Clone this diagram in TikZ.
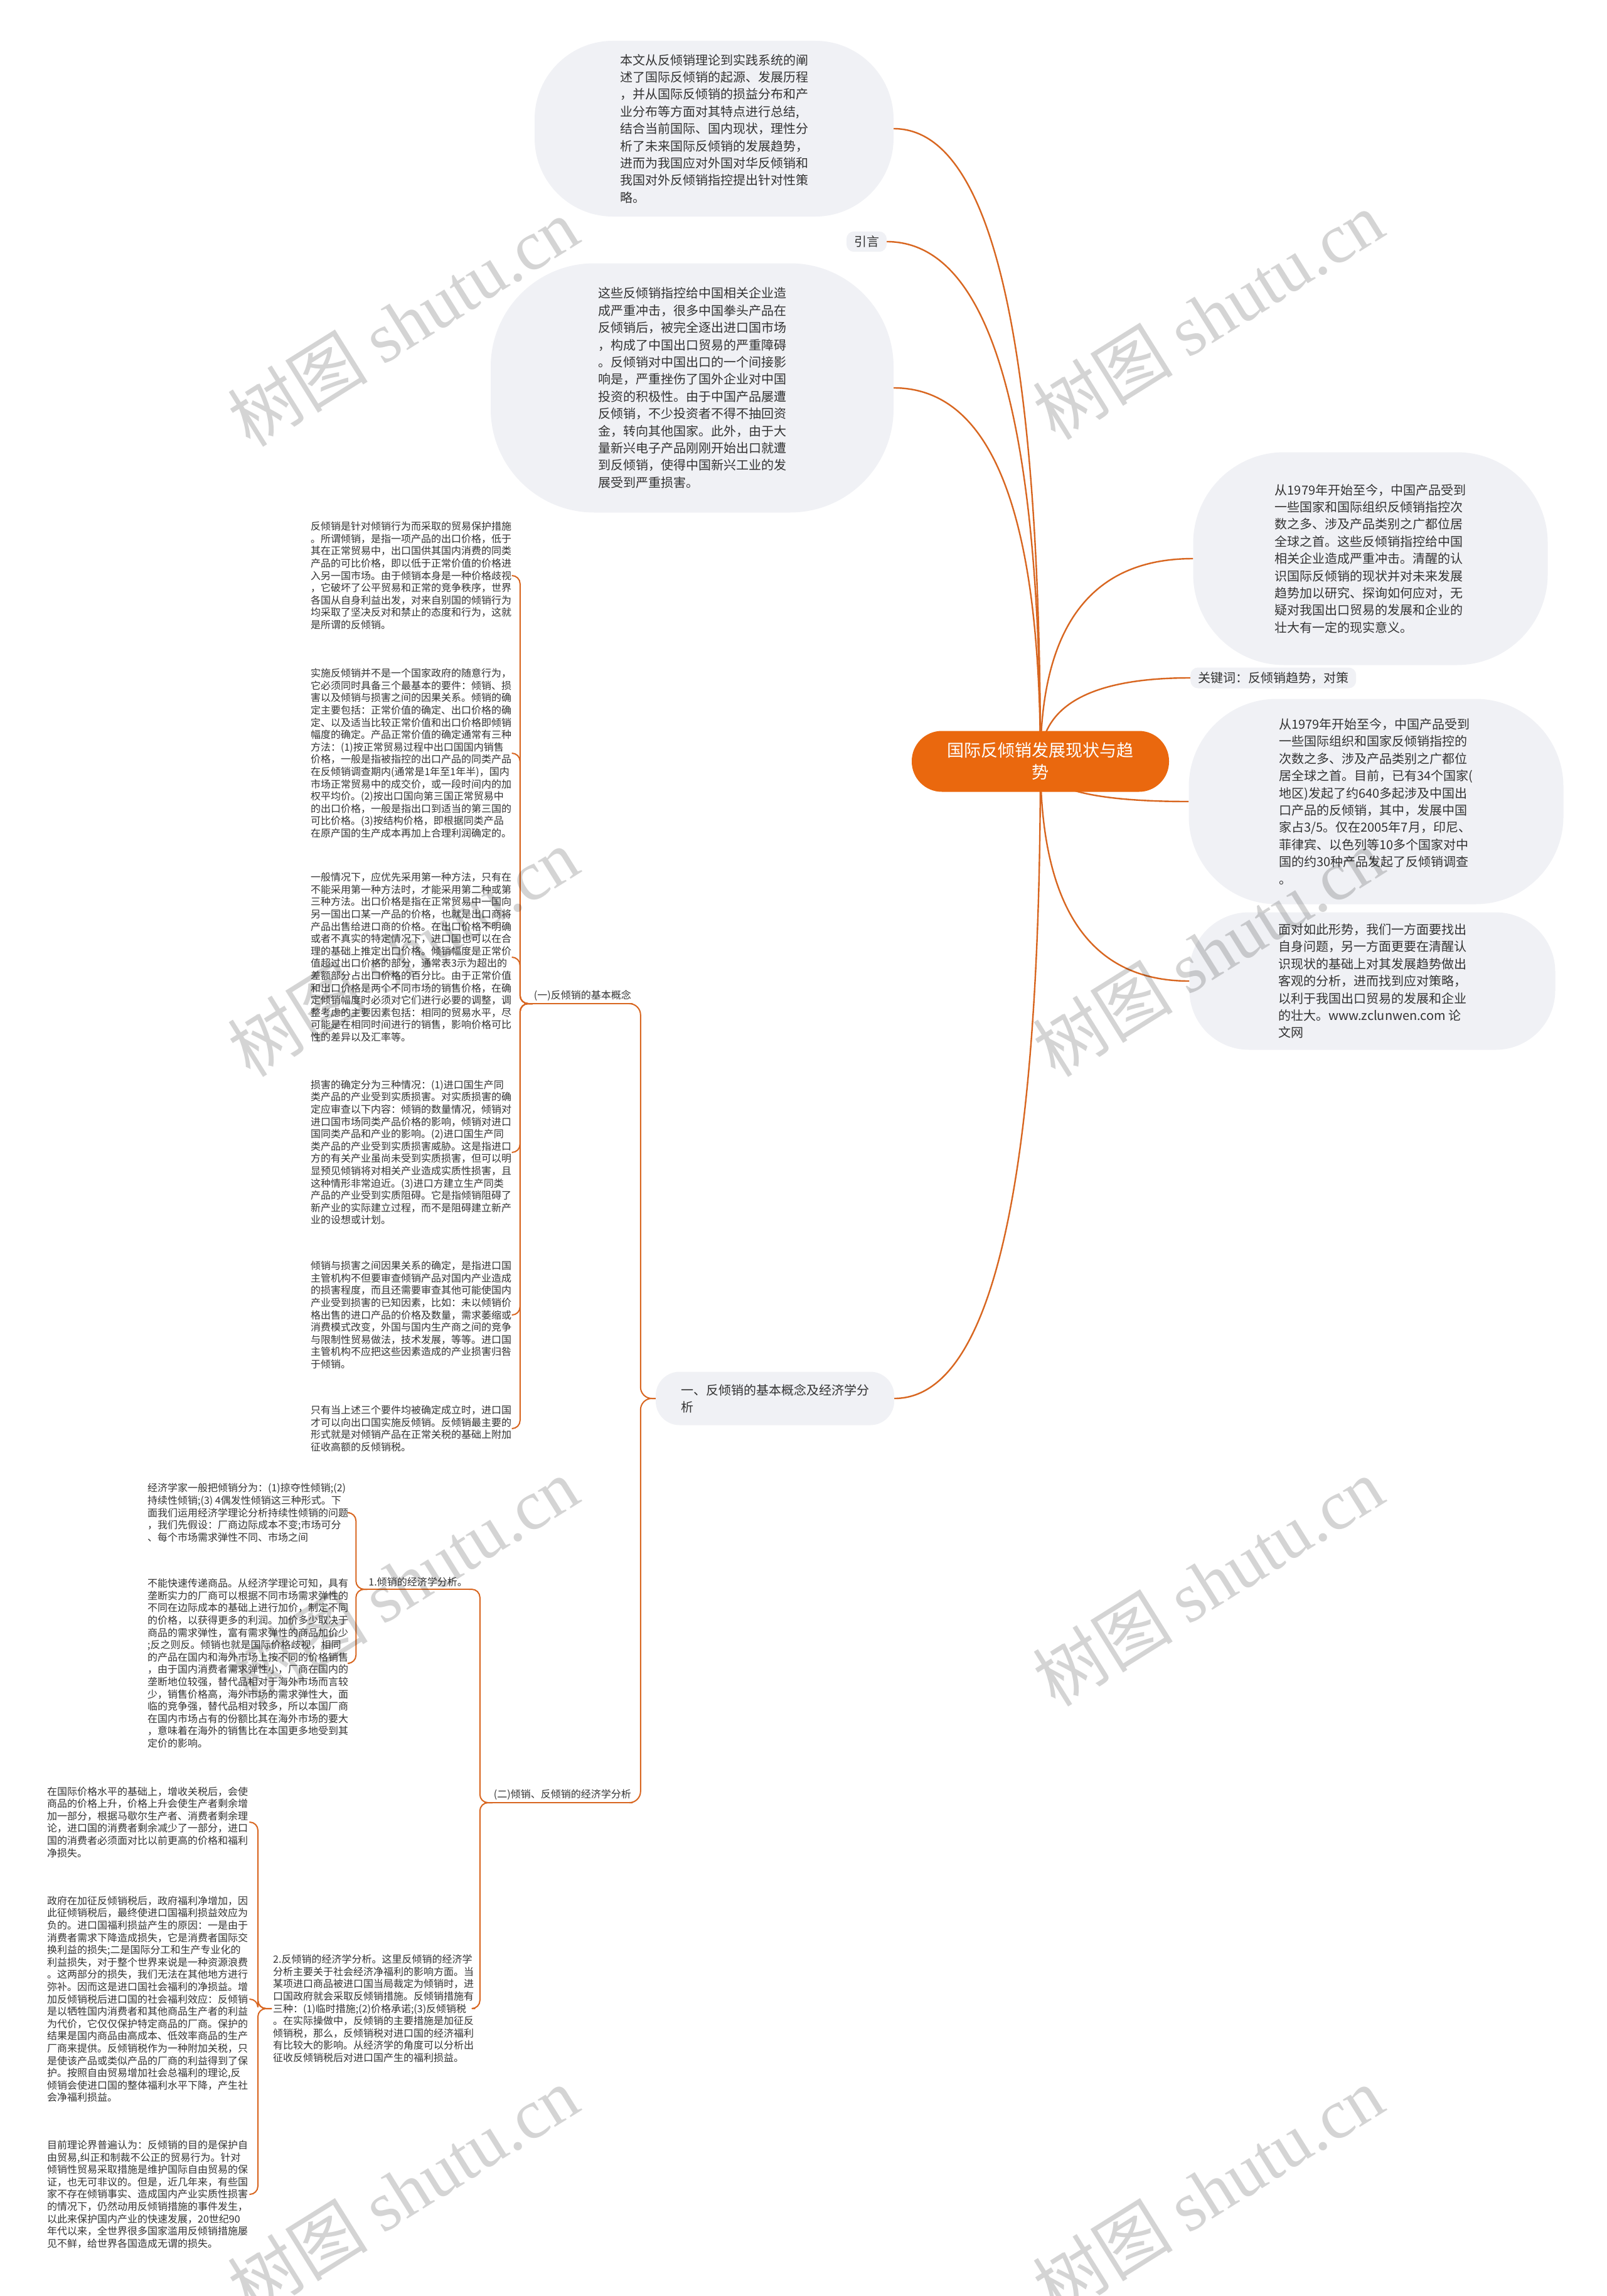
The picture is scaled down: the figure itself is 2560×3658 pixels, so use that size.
\documentclass[tikz,border=0pt]{standalone}
\usepackage{fontspec}
\setmainfont{Noto Sans CJK SC}
\newfontfamily\cjk{Noto Sans CJK SC}
\newfontfamily\wmserif{Liberation Serif}
\usetikzlibrary{calc}
\pgfdeclarelayer{bg}
\pgfdeclarelayer{fg}
\pgfsetlayers{bg,main,fg}
\definecolor{linec}{RGB}{216,102,32}
\definecolor{rootc}{RGB}{234,104,14}
\definecolor{bubc}{RGB}{240,241,245}
\definecolor{txtc}{RGB}{51,51,51}
\tikzset{
  conn/.style={draw=linec, line width=2.4pt},
  conn2/.style={draw=linec, line width=2pt, rounded corners=13pt},
  qcurve/.style={to path={.. controls ($(\tikztostart)!0.6667!(\tikztostart |- \tikztotarget)$) and ($(\tikztotarget)!0.6667!(\tikztostart |- \tikztotarget)$) .. (\tikztotarget)}},
  rootnode/.style={fill=rootc, text=white, rounded corners=48pt, minimum width=410pt, minimum height=97pt, align=center, font=\cjk\fontsize{27}{35}\selectfont, inner sep=0pt},
  bubble/.style={fill=bubc, text=txtc, align=left, font=\cjk\fontsize{20}{27.4}\selectfont, inner sep=0pt},
  smallbox/.style={fill=bubc, text=txtc, rounded corners=12pt, font=\cjk\fontsize{20}{26}\selectfont, inner xsep=12pt, inner ysep=7pt},
  lbl/.style={text=txtc, font=\cjk\fontsize{16}{19.6}\selectfont, inner xsep=2pt, inner ysep=4pt},
  para/.style={text=txtc, align=left, font=\cjk\fontsize{16}{19.6}\selectfont, inner xsep=2pt, inner ysep=0pt},
  wm/.style={text=black, opacity=0.17, rotate=32, font=\cjk\fontsize{112}{112}\selectfont}
}
\begin{document}
\begin{tikzpicture}[x=1pt,y=-1pt]
\useasboundingbox (0,0) rectangle (2560,3658);

% ---------- root and first level ----------
\node[rootnode] (c) at (1658,1213) {国际反倾销发展现状与趋\\势};

\node[bubble, minimum width=572pt, minimum height=280pt, rounded corners=125pt] (b1) at (1138,205) {本文从反倾销理论到实践系统的阐\\述了国际反倾销的起源、发展历程\\，并从国际反倾销的损益分布和产\\业分布等方面对其特点进行总结,\\结合当前国际、国内现状，理性分\\析了未来国际反倾销的发展趋势，\\进而为我国应对外国对华反倾销和\\我国对外反倾销指控提出针对性策\\略。};

\node[smallbox] (yin) at (1381,385) {引言};

\node[bubble, minimum width=642pt, minimum height=397pt, rounded corners=165pt] (b2) at (1103,618) {这些反倾销指控给中国相关企业造\\成严重冲击，很多中国拳头产品在\\反倾销后，被完全逐出进口国市场\\，构成了中国出口贸易的严重障碍\\。反倾销对中国出口的一个间接影\\响是，严重挫伤了国外企业对中国\\投资的积极性。由于中国产品屡遭\\反倾销，不少投资者不得不抽回资\\金，转向其他国家。此外，由于大\\量新兴电子产品刚刚开始出口就遭\\到反倾销，使得中国新兴工业的发\\展受到严重损害。};

\node[bubble, minimum width=565pt, minimum height=339pt, rounded corners=145pt] (r1) at (2184,890) {从1979年开始至今，中国产品受到\\一些国家和国际组织反倾销指控次\\数之多、涉及产品类别之广都位居\\全球之首。这些反倾销指控给中国\\相关企业造成严重冲击。清醒的认\\识国际反倾销的现状并对未来发展\\趋势加以研究、探询如何应对，无\\疑对我国出口贸易的发展和企业的\\壮大有一定的现实意义。};

\node[smallbox, anchor=west] (kw) at (1897,1080) {关键词：反倾销趋势，对策};

\node[bubble, minimum width=597pt, minimum height=327pt, rounded corners=140pt] (r2) at (2193,1277) {从1979年开始至今，中国产品受到\\一些国际组织和国家反倾销指控的\\次数之多、涉及产品类别之广都位\\居全球之首。目前，已有34个国家(\\地区)发起了约640多起涉及中国出\\口产品的反倾销，其中，发展中国\\家占3/5。仅在2005年7月，印尼、\\菲律宾、以色列等10多个国家对中\\国的约30种产品发起了反倾销调查\\。};

\node[bubble, minimum width=583pt, minimum height=219pt, rounded corners=95pt] (r3) at (2187,1563) {面对如此形势，我们一方面要找出\\自身问题，另一方面更要在清醒认\\识现状的基础上对其发展趋势做出\\客观的分析，进而找到应对策略，\\以利于我国出口贸易的发展和企业\\的壮大。www.zclunwen.com 论\\文网};

\node[bubble, minimum width=380pt, minimum height=85pt, rounded corners=38pt] (n1) at (1235,2228) {一、反倾销的基本概念及经济学分\\析};

% ---------- labels ----------
\node[lbl, anchor=south east] (l1) at (1008,1599) {(一)反倾销的基本概念};
\node[lbl, anchor=south east] (l2) at (1008,2872) {(二)倾销、反倾销的经济学分析};
\node[lbl, anchor=south east] (l3) at (747,2532) {1.倾销的经济学分析。};

% ---------- paragraphs of (一) ----------
\node[para, anchor=west] (p1) at (493,917) {反倾销是针对倾销行为而采取的贸易保护措施\\。所谓倾销，是指一项产品的出口价格，低于\\其在正常贸易中，出口国供其国内消费的同类\\产品的可比价格，即以低于正常价值的价格进\\入另一国市场。由于倾销本身是一种价格歧视\\，它破坏了公平贸易和正常的竞争秩序，世界\\各国从自身利益出发，对来自别国的倾销行为\\均采取了坚决反对和禁止的态度和行为，这就\\是所谓的反倾销。};

\node[para, anchor=west] (p2) at (493,1200) {实施反倾销并不是一个国家政府的随意行为，\\它必须同时具备三个最基本的要件：倾销、损\\害以及倾销与损害之间的因果关系。倾销的确\\定主要包括：正常价值的确定、出口价格的确\\定、以及适当比较正常价值和出口价格即倾销\\幅度的确定。产品正常价值的确定通常有三种\\方法：(1)按正常贸易过程中出口国国内销售\\价格，一般是指被指控的出口产品的同类产品\\在反倾销调查期内(通常是1年至1年半)，国内\\市场正常贸易中的成交价，或一段时间内的加\\权平均价。(2)按出口国向第三国正常贸易中\\的出口价格，一般是指出口到适当的第三国的\\可比价格。(3)按结构价格，即根据同类产品\\在原产国的生产成本再加上合理利润确定的。};

\node[para, anchor=west] (p3) at (493,1525) {一般情况下，应优先采用第一种方法，只有在\\不能采用第一种方法时，才能采用第二种或第\\三种方法。出口价格是指在正常贸易中一国向\\另一国出口某一产品的价格，也就是出口商将\\产品出售给进口商的价格。在出口价格不明确\\或者不真实的特定情况下，进口国也可以在合\\理的基础上推定出口价格。倾销幅度是正常价\\值超过出口价格的部分，通常表3示为超出的\\差额部分占出口价格的百分比。由于正常价值\\和出口价格是两个不同市场的销售价格，在确\\定倾销幅度时必须对它们进行必要的调整，调\\整考虑的主要因素包括：相同的贸易水平，尽\\可能是在相同时间进行的销售，影响价格可比\\性的差异以及汇率等。};

\node[para, anchor=west] (p4) at (493,1836) {损害的确定分为三种情况：(1)进口国生产同\\类产品的产业受到实质损害。对实质损害的确\\定应审查以下内容：倾销的数量情况，倾销对\\进口国市场同类产品价格的影响，倾销对进口\\国同类产品和产业的影响。(2)进口国生产同\\类产品的产业受到实质损害威胁。这是指进口\\方的有关产业虽尚未受到实质损害，但可以明\\显预见倾销将对相关产业造成实质性损害，且\\这种情形非常迫近。(3)进口方建立生产同类\\产品的产业受到实质阻碍。它是指倾销阻碍了\\新产业的实际建立过程，而不是阻碍建立新产\\业的设想或计划。};

\node[para, anchor=west] (p5) at (493,2095) {倾销与损害之间因果关系的确定，是指进口国\\主管机构不但要审查倾销产品对国内产业造成\\的损害程度，而且还需要审查其他可能使国内\\产业受到损害的已知因素，比如：未以倾销价\\格出售的进口产品的价格及数量，需求萎缩或\\消费模式改变，外国与国内生产商之间的竞争\\与限制性贸易做法，技术发展，等等。进口国\\主管机构不应把这些因素造成的产业损害归咎\\于倾销。};

\node[para, anchor=west] (p6) at (493,2276) {只有当上述三个要件均被确定成立时，进口国\\才可以向出口国实施反倾销。反倾销最主要的\\形式就是对倾销产品在正常关税的基础上附加\\征收高额的反倾销税。};

% ---------- paragraphs of (二) ----------
\node[para, anchor=west] (e1) at (233,2410) {经济学家一般把倾销分为：(1)掠夺性倾销;(2)\\持续性倾销;(3) 4偶发性倾销这三种形式。下\\面我们运用经济学理论分析持续性倾销的问题\\，我们先假设：厂商边际成本不变;市场可分\\、每个市场需求弹性不同、市场之间};

\node[para, anchor=west] (e2) at (233,2650) {不能快速传递商品。从经济学理论可知，具有\\垄断实力的厂商可以根据不同市场需求弹性的\\不同在边际成本的基础上进行加价，制定不同\\的价格，以获得更多的利润。加价多少取决于\\商品的需求弹性，富有需求弹性的商品加价少\\;反之则反。倾销也就是国际价格歧视，相同\\的产品在国内和海外市场上按不同的价格销售\\，由于国内消费者需求弹性小，厂商在国内的\\垄断地位较强，替代品相对于海外市场而言较\\少，销售价格高，海外市场的需求弹性大，面\\临的竞争强，替代品相对较多，所以本国厂商\\在国内市场占有的份额比其在海外市场的要大\\，意味着在海外的销售比在本国更多地受到其\\定价的影响。};

\node[para, anchor=west] (k) at (433,3200) {2.反倾销的经济学分析。这里反倾销的经济学\\分析主要关于社会经济净福利的影响方面。当\\某项进口商品被进口国当局裁定为倾销时，进\\口国政府就会采取反倾销措施。反倾销措施有\\三种：(1)临时措施;(2)价格承诺;(3)反倾销税\\。在实际操做中，反倾销的主要措施是加征反\\倾销税，那么，反倾销税对进口国的经济福利\\有比较大的影响。从经济学的角度可以分析出\\征收反倾销税后对进口国产生的福利损益。};

\node[para, anchor=west] (h1) at (73,2903) {在国际价格水平的基础上，增收关税后，会使\\商品的价格上升，价格上升会使生产者剩余增\\加一部分，根据马歇尔生产者、消费者剩余理\\论，进口国的消费者剩余减少了一部分，进口\\国的消费者必须面对比以前更高的价格和福利\\净损失。};

\node[para, anchor=west] (h2) at (73,3185) {政府在加征反倾销税后，政府福利净增加，因\\此征倾销税后，最终使进口国福利损益效应为\\负的。进口国福利损益产生的原因：一是由于\\消费者需求下降造成损失，它是消费者国际交\\换利益的损失;二是国际分工和生产专业化的\\利益损失，对于整个世界来说是一种资源浪费\\。这两部分的损失，我们无法在其他地方进行\\弥补。因而这是进口国社会福利的净损益。增\\加反倾销税后进口国的社会福利效应：反倾销\\是以牺牲国内消费者和其他商品生产者的利益\\为代价，它仅仅保护特定商品的厂商。保护的\\结果是国内商品由高成本、低效率商品的生产\\厂商来提供。反倾销税作为一种附加关税，只\\是使该产品或类似产品的厂商的利益得到了保\\护。按照自由贸易增加社会总福利的理论,反\\倾销会使进口国的整体福利水平下降，产生社\\会净福利损益。};

\node[para, anchor=west] (h3) at (73,3496) {目前理论界普遍认为：反倾销的目的是保护自\\由贸易,纠正和制裁不公正的贸易行为。针对\\倾销性贸易采取措施是维护国际自由贸易的保\\证，也无可非议的。但是，近几年来，有些国\\家不存在倾销事实、造成国内产业实质性损害\\的情况下，仍然动用反倾销措施的事件发生，\\以此来保护国内产业的快速发展，20世纪90\\年代以来，全世界很多国家滥用反倾销措施屡\\见不鲜，给世界各国造成无谓的损失。};

% ---------- connectors ----------
\begin{pgfonlayer}{bg}
\fill[white] (0,0) rectangle (2560,3658);
\draw[conn] (c.center) to[qcurve] (b1.east);
\draw[conn] (c.center) to[qcurve] (yin.east);
\draw[conn] (c.center) to[qcurve] (b2.east);
\draw[conn] (c.center) to[qcurve] (r1.west);
\draw[conn] (c.center) to[qcurve] (kw.west);
\draw[conn] (c.center) to[qcurve] (r2.west);
\draw[conn] (c.center) to[qcurve] (r3.west);
\draw[conn] (c.center) to[qcurve] (n1.east);

\draw[conn2, rounded corners=18pt] (n1.west) -- ++(-24,0) |- (l1.south east);
\draw[conn2, rounded corners=18pt] (n1.west) -- ++(-24,0) |- (l2.south east);

\draw[conn2] (l1.south west) -- (l1.south east);
\draw[conn2] (l2.south west) -- (l2.south east);
\draw[conn2] (l3.south west) -- (l3.south east);

\foreach \p in {p1,p2,p3,p4,p5,p6}
  \draw[conn2] (l1.south west) -- ++(-20,0) |- (\p.east);
\foreach \p in {l3.south east,k.east}
  \draw[conn2] (l2.south west) -- ++(-20,0) |- (\p);
\foreach \p in {e1,e2}
  \draw[conn2] (l3.south west) -- ++(-18,0) |- (\p.east);
\foreach \p in {h1,h2,h3}
  \draw[conn2] (k.west) -- ++(-22,0) |- (\p.east);
\end{pgfonlayer}

% ---------- watermarks ----------
\begin{pgfonlayer}{fg}
\foreach \wx/\wy [count=\i] in {642/513,1925/502,642/1517,1925/1517,642/2520,1925/2520,642/3490,1925/3490}
  \node[wm] (wm\i) at (\wx,\wy) {树图 {\wmserif shutu.cn}};
\end{pgfonlayer}
\end{tikzpicture}
\end{document}
